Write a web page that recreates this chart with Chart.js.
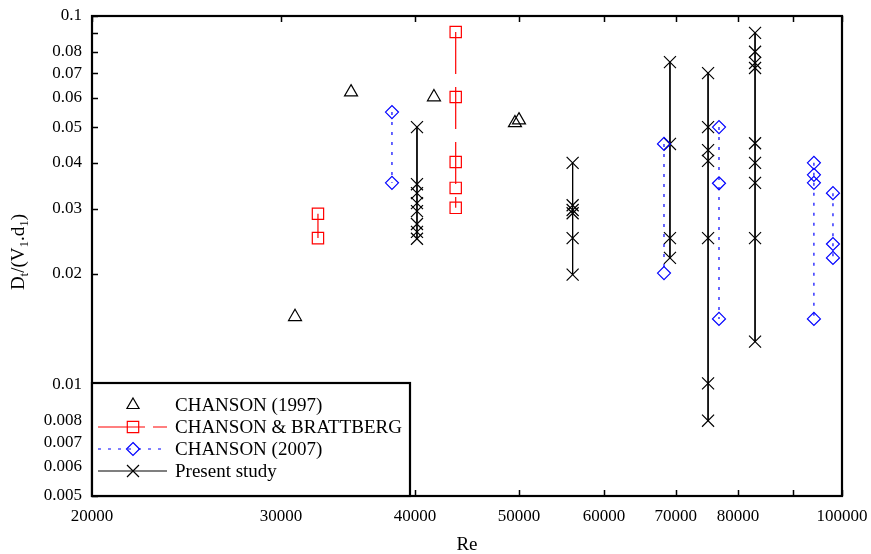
<!DOCTYPE html>
<html>
<head>
<meta charset="utf-8">
<script src="https://cdn.jsdelivr.net/npm/chart.js@4/dist/chart.umd.min.js"></script>
<style>
  html, body { margin: 0; padding: 0; background: #fff; }
  #wrap { width: 871px; height: 554px; }
</style>
</head>
<body>
<div id="wrap"><canvas id="jumpChart" width="871" height="554"></canvas></div>
<script>
// --- data (log-log, Re vs Dt/(V1.d1)) ---
const chanson1997Re = [30920, 34870, 41660, 49570, 50000];
const chanson1997D = [0.0153, 0.0622, 0.0603, 0.0513, 0.0522];

// vertical groups: one Re per group, several D values
const brattbergRe = [32480, 43650];
const brattbergD = [
  [0.0291, 0.0250],
  [0.0905, 0.0603, 0.0402, 0.0342, 0.0302]
];

const chanson2007Re = [38070, 68250, 76800, 94150, 98080];
const chanson2007D = [
  [0.0549, 0.0353],
  [0.0450, 0.0201],
  [0.0500, 0.0352, 0.0151],
  [0.0400, 0.0371, 0.0353, 0.0151],
  [0.0331, 0.0241, 0.0221]
];

const presentRe = [40170, 56100, 69130, 75020, 82980];
const presentD = [
  [0.0500, 0.0350, 0.0331, 0.0311, 0.0296, 0.0273, 0.0260, 0.0249],
  [0.0400, 0.0307, 0.0298, 0.0292, 0.0250, 0.0199],
  [0.0750, 0.0450, 0.0250, 0.0221],
  [0.0700, 0.0500, 0.0433, 0.0405, 0.0250, 0.0101, 0.0080],
  [0.0900, 0.0800, 0.0746, 0.0723, 0.0452, 0.0400, 0.0353, 0.0250, 0.0131]
];

const xTickValues = [20000, 30000, 40000, 50000, 60000, 70000, 80000, 90000, 100000];
const xTickLabels = ['20000', '30000', '40000', '50000', '60000', '70000', '80000', '', '100000'];
const yTickValues = [0.005, 0.006, 0.007, 0.008, 0.009, 0.01, 0.02, 0.03, 0.04, 0.05, 0.06, 0.07, 0.08, 0.09, 0.1];
const yTickLabels = ['0.005', '0.006', '0.007', '0.008', '', '0.01', '0.02', '0.03', '0.04', '0.05', '0.06', '0.07', '0.08', '', '0.1'];

const legendNames = ['CHANSON (1997)', 'CHANSON & BRATTBERG', 'CHANSON (2007)', 'Present study'];

const FONT = "'Liberation Serif', 'Times New Roman', serif";

// turn groups into one point list, with a null between groups so the lines break
function groupsToPoints(reList, dList) {
  const pts = [];
  reList.forEach((re, i) => {
    dList[i].forEach(d => pts.push({ x: re, y: d }));
    pts.push({ x: re, y: null });
  });
  return pts;
}

const datasets = [
  {
    label: legendNames[0],
    data: chanson1997Re.map((re, i) => ({ x: re, y: chanson1997D[i] })),
    showLine: false,
    pointStyle: 'triangle',
    pointRadius: 7.5,
    borderColor: '#000',
    pointBorderColor: '#000',
    pointBackgroundColor: 'rgba(0,0,0,0)',
    pointBorderWidth: 1.2
  },
  {
    label: legendNames[1],
    data: groupsToPoints(brattbergRe, brattbergD),
    showLine: true,
    spanGaps: false,
    borderColor: '#ff0000',
    borderWidth: 1.2,
    borderDash: [42, 13],
    pointStyle: 'rect',
    pointRadius: 8,
    pointBorderColor: '#ff0000',
    pointBackgroundColor: 'rgba(0,0,0,0)',
    pointBorderWidth: 1.2
  },
  {
    label: legendNames[2],
    data: groupsToPoints(chanson2007Re, chanson2007D),
    showLine: true,
    spanGaps: false,
    borderColor: '#0000ff',
    borderWidth: 1.2,
    borderDash: [3, 7],
    pointStyle: 'rectRot',
    pointRadius: 6.5,
    pointBorderColor: '#0000ff',
    pointBackgroundColor: 'rgba(0,0,0,0)',
    pointBorderWidth: 1.2
  },
  {
    label: legendNames[3],
    data: groupsToPoints(presentRe, presentD),
    showLine: true,
    spanGaps: false,
    borderColor: '#000',
    borderWidth: 1,
    pointStyle: 'crossRot',
    pointRadius: 8.5,
    pointBorderColor: '#000',
    pointBorderWidth: 1.2
  }
];

// symbols for the legend box
function drawSymbol(ctx, style, x, y) {
  ctx.beginPath();
  if (style === 'triangle') {
    const r = 7;
    ctx.moveTo(x, y - r);
    ctx.lineTo(x + r * 0.866, y + r / 2);
    ctx.lineTo(x - r * 0.866, y + r / 2);
    ctx.closePath();
  } else if (style === 'rect') {
    ctx.rect(x - 5.7, y - 5.7, 11.4, 11.4);
  } else if (style === 'rectRot') {
    const r = 6.5;
    ctx.moveTo(x, y - r); ctx.lineTo(x + r, y); ctx.lineTo(x, y + r); ctx.lineTo(x - r, y);
    ctx.closePath();
  } else {
    const r = 6;
    ctx.moveTo(x - r, y - r); ctx.lineTo(x + r, y + r);
    ctx.moveTo(x + r, y - r); ctx.lineTo(x - r, y + r);
  }
  ctx.stroke();
}

const framePlugin = {
  id: 'frame',
  afterDraw(chart) {
    const { ctx, chartArea: a, scales } = chart;
    ctx.save();

    // inward tick marks
    ctx.strokeStyle = '#000';
    ctx.lineWidth = 1.5;
    ctx.beginPath();
    xTickValues.forEach(v => {
      const px = Math.round(scales.x.getPixelForValue(v)) + 0.5;
      ctx.moveTo(px, a.bottom); ctx.lineTo(px, a.bottom - 6);
      ctx.moveTo(px, a.top); ctx.lineTo(px, a.top + 6);
    });
    yTickValues.forEach(v => {
      const py = Math.round(scales.y.getPixelForValue(v)) + 0.5;
      ctx.moveTo(a.left, py); ctx.lineTo(a.left + 6, py);
    });
    ctx.stroke();

    // frame
    ctx.lineWidth = 2.2;
    ctx.strokeRect(a.left, a.top, a.right - a.left, a.bottom - a.top);

    // legend box
    const bx = a.left, by = 383, bw = 318, bh = a.bottom - 383;
    ctx.fillStyle = '#fff';
    ctx.fillRect(bx, by, bw, bh);
    ctx.lineWidth = 2.2;
    ctx.strokeStyle = '#000';
    ctx.strokeRect(bx, by, bw, bh);

    const rows = [405, 427, 449, 471];
    const symX = 133, lineL = 98, lineR = 167, textX = 175;
    ctx.font = '19px ' + FONT;
    ctx.textBaseline = 'middle';
    ctx.textAlign = 'left';
    datasets.forEach((ds, i) => {
      const y = rows[i];
      ctx.strokeStyle = ds.pointBorderColor;
      ctx.lineWidth = 1.2;
      if (i === 1) {
        ctx.beginPath();
        ctx.moveTo(lineL, y); ctx.lineTo(145, y);
        ctx.moveTo(153, y); ctx.lineTo(lineR, y);
        ctx.stroke();
      } else if (i === 2) {
        ctx.setLineDash([3, 7]);
        ctx.beginPath(); ctx.moveTo(lineL, y); ctx.lineTo(lineR, y); ctx.stroke();
        ctx.setLineDash([]);
      } else if (i === 3) {
        ctx.beginPath(); ctx.moveTo(lineL, y); ctx.lineTo(lineR, y); ctx.stroke();
      }
      drawSymbol(ctx, ds.pointStyle, symX, y);
      ctx.fillStyle = '#000';
      ctx.fillText(ds.label, textX, y + 1);
    });

    // y axis title: Dt/(V1.d1) with subscripts, rotated
    ctx.translate(18, 252);
    ctx.rotate(-Math.PI / 2);
    const parts = [['D', false], ['t', true], ['/(V', false], ['1', true], ['.d', false], ['1', true], [')', false]];
    const big = '19px ' + FONT, small = '13px ' + FONT;
    let total = 0;
    parts.forEach(p => { ctx.font = p[1] ? small : big; total += ctx.measureText(p[0]).width; });
    let cx = -total / 2;
    ctx.textAlign = 'left';
    ctx.textBaseline = 'alphabetic';
    parts.forEach(p => {
      ctx.font = p[1] ? small : big;
      ctx.fillText(p[0], cx, p[1] ? 10 : 6);
      cx += ctx.measureText(p[0]).width;
    });

    ctx.restore();
  }
};

new Chart(document.getElementById('jumpChart'), {
  type: 'scatter',
  data: { datasets: datasets },
  options: {
    responsive: false,
    animation: false,
    devicePixelRatio: 1,
    layout: { padding: { top: 16, right: 29, left: 0, bottom: 0 } },
    plugins: { legend: { display: false }, tooltip: { enabled: false } },
    scales: {
      x: {
        type: 'logarithmic',
        min: 20000,
        max: 100000,
        afterBuildTicks: s => { s.ticks = xTickValues.map(v => ({ value: v })); },
        afterFit: s => { s.height = 58; s.paddingLeft = 0; s.paddingRight = 0; },
        grid: { display: true, drawOnChartArea: false, drawTicks: false },
        border: { display: false },
        ticks: {
          autoSkip: false,
          maxRotation: 0,
          padding: 10,
          color: '#000',
          font: { family: FONT, size: 17 },
          callback: (v, i) => xTickLabels[i]
        },
        title: { display: true, text: 'Re', color: '#000', font: { family: FONT, size: 19 }, padding: { top: 4, bottom: -2 } }
      },
      y: {
        type: 'logarithmic',
        min: 0.005,
        max: 0.1,
        afterBuildTicks: s => { s.ticks = yTickValues.map(v => ({ value: v })); },
        afterFit: s => { s.width = 92; s.paddingTop = 0; s.paddingBottom = 0; },
        grid: { display: true, drawOnChartArea: false, drawTicks: false },
        border: { display: false },
        ticks: {
          autoSkip: false,
          padding: 10,
          color: '#000',
          font: { family: FONT, size: 17 },
          callback: (v, i) => yTickLabels[i]
        }
      }
    }
  },
  plugins: [framePlugin]
});
</script>
</body>
</html>
